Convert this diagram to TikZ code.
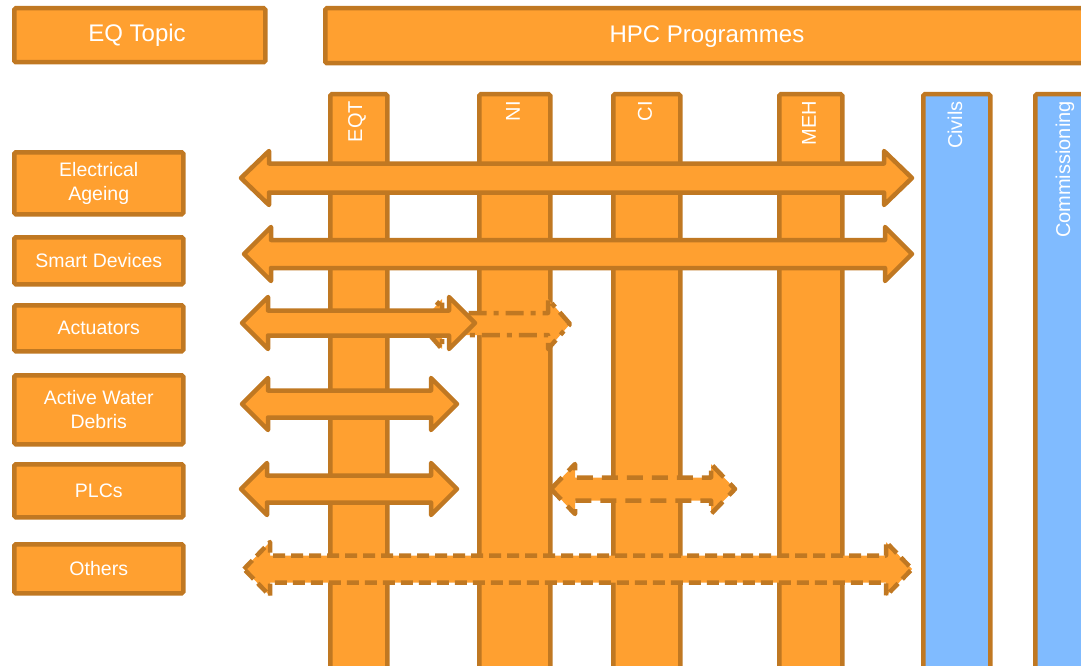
\documentclass[tikz,border=0pt]{standalone}
\usepackage{fontspec}
\setmainfont{Liberation Sans}
\definecolor{orfill}{HTML}{FFA030}
\definecolor{orline}{HTML}{C07822}
\definecolor{blfill}{HTML}{80BBFF}
\tikzset{
  topbox/.style={draw=orline,fill=orfill,line width=4.5pt,rounded corners=1.5pt,inner sep=0pt,anchor=north west},
  toptext/.style={text=white,font=\fontsize{24}{28}\selectfont,inner sep=0pt,anchor=base},
  leftbox/.style={draw=orline,fill=orfill,line width=4.5pt,rounded corners=1.5pt,text=white,font=\fontsize{19.5}{24}\selectfont,align=center,inner sep=0pt,minimum width=169pt,anchor=north west},
  colbox/.style={draw=orline,fill=orfill,line width=4.5pt,rounded corners=1.5pt,anchor=north west,inner sep=0pt},
  bluecol/.style={colbox,fill=blfill},
  collabel/.style={rotate=90,anchor=east,text=white,font=\fontsize{20}{22}\selectfont,inner sep=0pt},
  arrowsolid/.style={draw=orline,fill=orfill,line width=4.5pt,line join=round},
  arrowdash/.style={arrowsolid,dash pattern=on 12pt off 6pt},
  arrowdashb/.style={arrowsolid,dash pattern=on 16pt off 9pt},
  arrowdashdot/.style={arrowsolid,dash pattern=on 18pt off 7pt on 5pt off 7pt},
}
% x1, x2, y, shaft half, head half, head length, style
\newcommand\dblarrow[7]{%
  \draw[#7] (#1,#3) -- (#1+#6,#3-#5) -- (#1+#6,#3-#4) -- (#2-#6,#3-#4) -- (#2-#6,#3-#5) -- (#2,#3)
   -- (#2-#6,#3+#5) -- (#2-#6,#3+#4) -- (#1+#6,#3+#4) -- (#1+#6,#3+#5) -- cycle;}
\begin{document}
\begin{tikzpicture}[x=1pt,y=-1pt]
\useasboundingbox (0,0) rectangle (1081,666);
\clip (0,0) rectangle (1081,666);
% top boxes
\node[topbox,minimum width=251pt,minimum height=54pt] (eq) at (12,6) {};
\node[toptext] (eqt-text) at (137,42) {EQ Topic};
\node[topbox,minimum width=800pt,minimum height=55pt] (hpc) at (323,6) {};
\node[toptext] (hpc-text) at (707,43) {HPC Programmes};
% columns
\node[colbox,minimum width=57pt,minimum height=600pt] (eqt) at (328,92) {};
\node[collabel] (l1) at (357,101) {EQT};
\node[colbox,minimum width=71pt,minimum height=600pt] (ni) at (477,92) {};
\node[collabel] (l2) at (513,101) {NI};
\node[colbox,minimum width=67pt,minimum height=600pt] (ci) at (611,92) {};
\node[collabel] (l3) at (645,101) {CI};
\node[colbox,minimum width=63pt,minimum height=600pt] (meh) at (777,92) {};
\node[collabel] (l4) at (809,101) {MEH};
\node[bluecol,minimum width=67pt,minimum height=600pt] (civ) at (921,92) {};
\node[collabel] (l5) at (955,101) {Civils};
\node[bluecol,minimum width=67pt,minimum height=600pt] (com) at (1033,92) {};
\node[collabel] (l6) at (1065,101) {Commissioning};
% left boxes
\node[leftbox,minimum height=62pt] (ea) at (12,150) {Electrical\\Ageing};
\node[leftbox,minimum height=47pt] (sd) at (12,235) {Smart Devices};
\node[leftbox,minimum height=46pt] (ac) at (12,303) {Actuators};
\node[leftbox,minimum height=69pt] (aw) at (12,373) {Active Water\\Debris};
\node[leftbox,minimum height=53pt] (plc) at (12,462) {PLCs};
\node[leftbox,minimum height=49pt] (ot) at (12,542) {Others};
% arrows
\dblarrow{241}{912}{178}{14.5}{27}{28}{arrowsolid}
\dblarrow{244}{912}{254}{14}{27}{27}{arrowsolid}
\dblarrow{420}{570}{324}{11}{25}{22}{arrowdashdot}
\dblarrow{242}{475}{323}{12.5}{26}{26}{arrowsolid}
\dblarrow{242}{457}{404}{13.5}{26}{26}{arrowsolid}
\dblarrow{241}{457}{489}{13.5}{26}{26}{arrowsolid}
\dblarrow{551}{735}{489}{11.5}{25}{24}{arrowdashb}
\dblarrow{244}{912}{569}{13.5}{27}{26}{arrowdash}
\end{tikzpicture}
\end{document}
